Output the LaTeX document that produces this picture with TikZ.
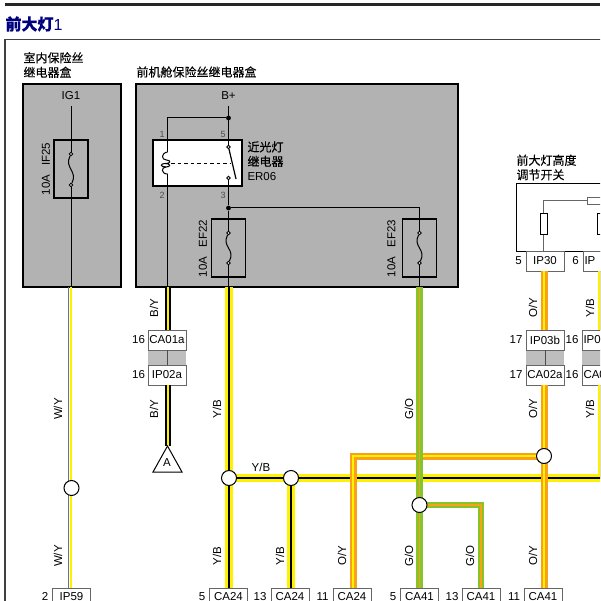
\documentclass[tikz,border=0pt]{standalone}
\usepackage{fontspec}
\setmainfont{Liberation Sans}
\newfontfamily\cjk[FakeBold=0.3]{Noto Sans CJK SC}
\definecolor{boxgrey}{HTML}{B2B2B2}
\definecolor{bandgrey}{HTML}{BEBEBE}
\definecolor{wireorange}{HTML}{F9A11B}
\definecolor{wiregreen}{HTML}{86C52A}
\definecolor{titleblue}{HTML}{00007F}

\begin{document}
\begin{tikzpicture}[x=1pt,y=-1pt,line width = 1pt]
\tikzstyle{every node}=[inner sep=0pt,font=\fontsize{11.5}{14}\selectfont];
\tikzstyle{fusebox}=[rectangle,draw,line width=1.5pt,minimum width=34pt,minimum height=58pt];
\tikzstyle{conn}=[rectangle,draw=black!60,fill=white,line width=0.8pt,minimum width=38pt,minimum height=20pt];
\tikzstyle{connL}=[conn,text width=35pt,align=left,inner xsep=1.5pt];
\tikzstyle{connB}=[conn,minimum height=18pt];
\tikzstyle{band}=[rectangle,fill=bandgrey,minimum width=38pt,minimum height=16pt];
\tikzstyle{tap}=[circle,draw,fill=white,line width=0.8pt,minimum size=3.6pt];
\tikzstyle{joint}=[circle,fill=black,minimum size=4.8pt];
\tikzstyle{splice}=[circle,draw,fill=white,line width=1pt,minimum size=15pt];
\tikzstyle{cjklabel}=[font=\fontsize{12}{14.5}\selectfont\cjk,align=left,anchor=west];
\tikzstyle{vlabel}=[rotate=90];
\tikzstyle{pin}=[font=\fontsize{9}{11}\selectfont,text=black!70];
\tikzstyle{res}=[rectangle,draw,fill=white,line width=1pt,minimum width=7pt,minimum height=21pt];
\tikzstyle{YB}=[draw=yellow,line width=2.8pt,double=black,double distance=2.2pt];
\tikzstyle{BY}=[draw=black,line width=2pt,double=yellow,double distance=2pt];
\tikzstyle{OY}=[draw=wireorange,line width=2.5pt,double=yellow,double distance=2pt];
\tikzstyle{GO}=[draw=wiregreen,line width=2.5pt,double=wireorange,double distance=1.8pt];
\tikzstyle{WY}=[draw=yellow,line width=1.2pt,preaction={draw=black!55,line width=1.2pt,transform canvas={xshift=-2.7pt}}];

\useasboundingbox (0,0) rectangle (600,601);
\clip (0,0) rectangle (600,601);

% title and frame
\fill[black!85] (4.5,3) rectangle (600,6.5);
\node[anchor=west,text=titleblue] (Title) at (5,24) {\fontsize{16}{18}\selectfont{\cjk\bfseries 前大灯}1};
\draw[black!75,line width=1.3pt] (5,640) |- (640,39.5);

% fuse boxes
\draw[fill=boxgrey,line width=1.3pt] (23,84) rectangle (121,287);
\draw[fill=boxgrey,line width=1.3pt] (136,84) rectangle (458,287);
\node[cjklabel] (BoxA) at (23,65) {室内保险丝\\继电器盒};
\node[cjklabel] (BoxB) at (136,72) {前机舱保险丝继电器盒};

\node (IG) at (71,96) {IG1};
\node (Bp) at (228.5,96) {B+};
\coordinate (IGend) at (71,106);
\coordinate (Bpend) at (228.5,106);
\coordinate (IF25out) at (71,287);
\coordinate (CoilOut) at (167.5,287);
\coordinate (EF22out) at (229,287);
\coordinate (EF23out) at (419.5,287);

\node[fusebox] (IF25) at (71,169) {};
\node[fusebox] (EF22) at (228.5,248) {};
\node[fusebox] (EF23) at (419.5,248) {};
\node[vlabel] (IF25t) at (46,169) {10A\hspace{0.8em}IF25};
\node[vlabel] (EF22t) at (203,248.5) {10A\hspace{0.8em}EF22};
\node[vlabel] (EF23t) at (391.5,248.5) {10A\hspace{0.8em}EF23};

% relay
\node[joint] (J5) at (228.5,118) {};
\node[joint] (J3) at (228.5,208) {};
\coordinate (CoilTop) at (167.5,118);
\coordinate (EF23top) at (419.5,208);
\draw (Bpend) -- (J5);
\draw (J5) -- (CoilTop) -- (CoilOut);
\draw[fill=white,line width=1.5pt] (153,140) rectangle (242,186);
\draw (167.5,140) -- (167.5,152);
\draw (167.5,174) -- (167.5,186);
\node[tap] (C5) at (228.5,147) {};
\node[tap] (C3) at (228.5,178) {};
\draw (Bpend) -- (C5);
\draw (167.5,152) .. controls (161,153) and (161,160) .. (166.5,160)
  .. controls (171,160) and (171,164) .. (165,163.5)
  .. controls (160,163.5) and (160,167) .. (166,167)
  .. controls (171,167) and (171,163.5) .. (165,163.5);
\draw (166,167) .. controls (161,167) and (161,174) .. (167.5,174);
\draw[dash pattern=on 3.5pt off 3pt] (171,163.5) -- (230,163.5);
\draw[line width=1.2pt] (C5) -- (236,179);
\draw (C3) -- (J3);
\draw (J3) -- (EF23top) -- (EF23.north);
\draw (J3) -- (EF22.north);
\node[pin] (P1) at (162,134) {1};
\node[pin] (P5) at (223,134) {5};
\node[pin] (P2) at (162,195) {2};
\node[pin] (P3) at (223,195) {3};
\node[cjklabel] (Relay) at (247,161) {近光灯\\继电器\\{\fontsize{11.5}{14}\selectfont\rmfamily ER06}};

% fuses
\node[tap] (IF25a) at (71,154) {};
\node[tap] (IF25b) at (71,185) {};
\node[tap] (EF22a) at (228.5,233) {};
\node[tap] (EF22b) at (228.5,263) {};
\node[tap] (EF23a) at (419.5,233) {};
\node[tap] (EF23b) at (419.5,263) {};
\draw (IGend) -- (IF25a);
\draw (IF25b) -- (IF25out);
\draw (IF25a) .. controls +(-7,14) and +(7,-14) .. (IF25b);
\draw (EF22.north) -- (EF22a);
\draw (EF22b) -- (EF22.south);
\draw (EF22a) .. controls +(-7,14) and +(7,-14) .. (EF22b);
\draw (EF22.south) -- (EF22.south |- EF22out);
\draw (EF23.north) -- (EF23a);
\draw (EF23b) -- (EF23out);
\draw (EF23a) .. controls +(-7,14) and +(7,-14) .. (EF23b);

% switch
\draw[fill=white,line width=1pt] (516,184) rectangle (640,251);
\node[cjklabel] (Switch) at (516,167.5) {前大灯高度\\调节开关};
\node[res] (R1) at (543.5,224.5) {};
\node[res] (R2) at (600.5,224.5) {};
\node[rectangle,draw=black!60,fill=white,line width=0.8pt,minimum width=22pt,minimum height=7pt] (R3) at (598,201) {};
\coordinate (R1top) at (543.5,201);
\draw[black!60] (R1.north) -- (R1top) -- (R3.west);

% connectors, upper row
\node[band] (BandA) at (167,357) {};
\node[conn] (CA01a) at (167,340) {CA01a};
\node[conn] (IP02a) at (167,375) {IP02a};
\node[conn] (IP30) at (545,261) {IP30};
\node[connL] (IPr) at (602,261) {IP};
\node[band] (BandB) at (545,357) {};
\node[conn] (IP03b) at (545,340) {IP03b};
\node[conn] (CA02a) at (545,375) {CA02a};
\node[band] (BandC) at (601,357) {};
\node[connL] (IPs) at (601,340) {IP0};
\node[connL] (CAs) at (601,375) {CA0};
\draw[black!60] (R1.south) -- (R1 |- IP30.north);
\draw[black!70] (CA01a.south -| CoilOut) -- (IP02a.north -| CoilOut);
\draw[black!70] (IP03b.south) -- (CA02a.north);
\node (P16a) at (138.5,340) {16};
\node (P16b) at (138.5,375) {16};
\node (P5s) at (518.5,261) {5};
\node (P6s) at (575.5,261) {6};
\node (P17a) at (516,340) {17};
\node (P17b) at (516,375) {17};
\node (P16c) at (572,340) {16};
\node (P16d) at (572,375) {16};

% connectors, lower row
\node[connB] (IP59) at (71.5,597) {IP59};
\node[connB] (CA24a) at (228.5,597) {CA24};
\node[connB] (CA24b) at (290,597) {CA24};
\node[connB] (CA24c) at (352,597) {CA24};
\node[connB] (CA41a) at (419.5,597) {CA41};
\node[connB] (CA41b) at (481,597) {CA41};
\node[connB] (CA41c) at (543,597) {CA41};
\node (P2t) at (45,596.5) {2};
\node (P5t) at (202,596.5) {5};
\node (P13t) at (260,596.5) {13};
\node (P11t) at (322.5,596.5) {11};
\node (P5u) at (393,596.5) {5};
\node (P13u) at (452,596.5) {13};
\node (P11u) at (514,596.5) {11};

% wires
\coordinate (TriTop) at (167.5,446);
\coordinate (BusEnd) at (601.5,478);
\coordinate (BusUp) at (601.5,385);
\coordinate (OYcorner) at (353,456);
\coordinate (GOcorner) at (481,505);
\coordinate (JW) at (71.5,488);
\coordinate (JYa) at (229,478);
\coordinate (JYb) at (291,478);
\coordinate (JO) at (544,456);
\coordinate (JG) at (419.5,505);

\draw[WY] (IF25out) -- (IP59.north -| IF25out);
\draw[BY] (CoilOut) -- (CA01a.north -| CoilOut);
\draw[BY] (IP02a.south -| TriTop) -- (TriTop);
\draw[YB] (EF22out) -- (CA24a.north -| EF22out);
\draw[YB] (JYb) -- (CA24b.north -| JYb);
\draw[YB] (JYa) -- (BusEnd) -- (BusUp);
\draw[YB] (IPr.south -| BusUp) -- (IPs.north -| BusUp);
\draw[OY] (IP30.south -| JO) -- (IP03b.north -| JO);
\draw[OY] (CA02a.south -| JO) -- (CA41c.north -| JO);
\draw[OY] (JO) -- (OYcorner) -- (CA24c.north -| OYcorner);
\draw[GO] (EF23out) -- (CA41a.north);
\draw[GO] (JG) -- (GOcorner) -- (CA41b.north -| GOcorner);

\node[splice] (SpW) at (JW) {};
\node[splice] (SpYa) at (JYa) {};
\node[splice] (SpYb) at (JYb) {};
\node[splice] (SpO) at (JO) {};
\node[splice] (SpG) at (JG) {};

\draw[fill=white] (TriTop) -- (182,472) -- (153,472) -- cycle;
\node (TriA) at (167,462.5) {A};

% wire labels
\node[vlabel] (L1) at (58,409) {W/Y};
\node[vlabel] (L2) at (58,556) {W/Y};
\node[vlabel] (L3) at (154,308) {B/Y};
\node[vlabel] (L4) at (154,409) {B/Y};
\node[vlabel] (L5) at (217,409) {Y/B};
\node[vlabel] (L6) at (217,556) {Y/B};
\node[vlabel] (L7) at (280,556) {Y/B};
\node (L8) at (261,467) {Y/B};
\node[vlabel] (L9) at (342,556) {O/Y};
\node[vlabel] (L10) at (409,409) {G/O};
\node[vlabel] (L11) at (409,556) {G/O};
\node[vlabel] (L12) at (470,556) {G/O};
\node[vlabel] (L13) at (533,308) {O/Y};
\node[vlabel] (L14) at (533,409) {O/Y};
\node[vlabel] (L15) at (533,556) {O/Y};
\node[vlabel] (L16) at (590,308) {Y/B};
\node[vlabel] (L17) at (590,409) {Y/B};
\end{tikzpicture}
\end{document}
